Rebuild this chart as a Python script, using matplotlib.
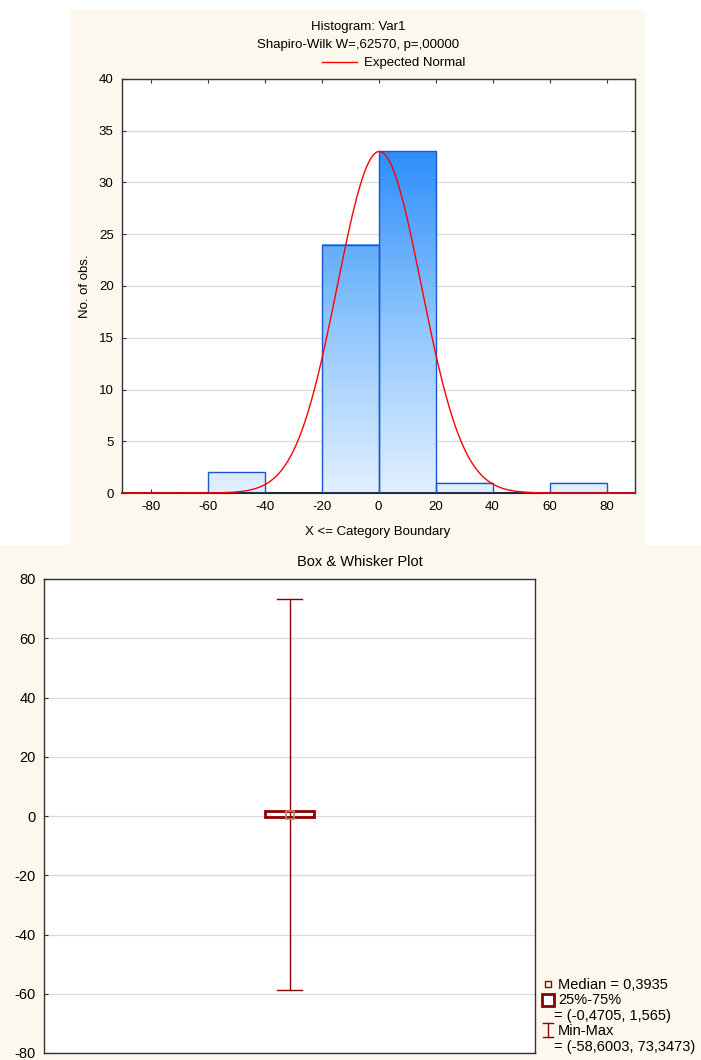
import numpy as np
import matplotlib
matplotlib.use("Agg")
import matplotlib.pyplot as plt
from matplotlib.patches import Rectangle
from matplotlib.lines import Line2D
from matplotlib.colors import LinearSegmentedColormap

plt.rcParams['font.family'] = ['Liberation Sans', 'DejaVu Sans']
plt.rcParams['axes.unicode_minus'] = False

# ---------------- data ----------------
bin_edges = [-80, -60, -40, -20, 0, 20, 40, 60, 80]
counts = [0, 2, 0, 24, 33, 1, 0, 1]
normal_mean = 0.3
normal_sd = 14.75
n_obs = 61
hist_xticks = [-80, -60, -40, -20, 0, 20, 40, 60, 80]
hist_yticks = [0, 5, 10, 15, 20, 25, 30, 35, 40]

box_median = 0.3935
box_q1 = -0.4705
box_q3 = 1.565
box_min = -58.6003
box_max = 73.3473
box_yticks = [-80, -60, -40, -20, 0, 20, 40, 60, 80]

W, H = 701, 1060
BG = '#fdf8ee'
DARKRED = '#8b0000'

fig = plt.figure(figsize=(W / 100, H / 100), dpi=100)
fig.patch.set_facecolor('white')


def fx(x):
    return x / W


def fy(y):
    return 1 - y / H


def ax_rect(l, t, r, b):
    return [fx(l), fy(b), (r - l) / W, (b - t) / H]


# panel backgrounds
fig.add_artist(Rectangle((fx(70), fy(545)), (645 - 70) / W, (545 - 10) / H,
                         transform=fig.transFigure, facecolor=BG, edgecolor='none', zorder=-10))
fig.add_artist(Rectangle((0, 0), 1, fy(545), transform=fig.transFigure,
                         facecolor=BG, edgecolor='none', zorder=-10))

# ---------------- histogram ----------------
ax1 = fig.add_axes(ax_rect(122, 79, 635, 493))
ax1.set_facecolor('white')
cmap = LinearSegmentedColormap.from_list('bl', ['#e2f0ff', '#8ec5fb', '#2d8ffd'])
ymax_c = max(counts)
for i, c in enumerate(counts):
    if c <= 0:
        continue
    x0, x1 = bin_edges[i], bin_edges[i + 1]
    grad = np.linspace(0, c / ymax_c, 200).reshape(-1, 1)
    ax1.imshow(grad, extent=[x0, x1, 0, c], origin='lower', aspect='auto',
               cmap=cmap, vmin=0, vmax=1, zorder=2, interpolation='bilinear')
    ax1.add_patch(Rectangle((x0, 0), x1 - x0, c, facecolor='none',
                            edgecolor='#1a56d0', lw=1, zorder=3))

bw = bin_edges[1] - bin_edges[0]
xs = np.linspace(-90, 90, 600)
ys = n_obs * bw / (normal_sd * np.sqrt(2 * np.pi)) * np.exp(-0.5 * ((xs - normal_mean) / normal_sd) ** 2)
ax1.plot(xs, ys, color='#ff0000', lw=1, zorder=4, clip_on=False)

ax1.set_xlim(-90, 90)
ax1.set_ylim(0, 40)
ax1.set_xticks(hist_xticks)
ax1.set_yticks(hist_yticks)
ax1.set_xticklabels([str(v) for v in hist_xticks])
ax1.grid(axis='y', color='#dcdcdc', lw=1, zorder=0)
ax1.set_axisbelow(True)
ax1.tick_params(direction='in', length=3, top=True, right=True, labelsize=9.5,
                colors='#333333', labelcolor='black', pad=6)
for s in ax1.spines.values():
    s.set_color('#333333')
    s.set_linewidth(1)
ax1.spines['bottom'].set_color('#1c2a40')
ax1.spines['bottom'].set_linewidth(1.5)
ax1.set_xlabel('X <= Category Boundary', fontsize=9.5)
ax1.set_ylabel('No. of obs.', fontsize=9.5)
ax1.xaxis.set_label_coords((378 - 122) / 513, -(532 - 493) / 414)
ax1.yaxis.set_label_coords((85 - 122) / 513, 0.5)
ax1.xaxis.label.set_va('center')
ax1.yaxis.label.set_va('center')

fig.text(fx(358), fy(27), 'Histogram: Var1', ha='center', va='center', fontsize=9.5)
fig.text(fx(358), fy(45), 'Shapiro-Wilk W=,62570, p=,00000', ha='center', va='center', fontsize=9.5)
fig.add_artist(Line2D([fx(322), fx(357)], [fy(62), fy(62)], transform=fig.transFigure,
                      color='#ff0000', lw=1))
fig.text(fx(364), fy(63), 'Expected Normal', ha='left', va='center', fontsize=9.5)

# ---------------- box & whisker ----------------
ax2 = fig.add_axes(ax_rect(44, 579, 535, 1053))
ax2.set_facecolor('white')
ax2.set_xlim(0, 2)
ax2.set_ylim(-80, 80)
ax2.set_yticks(box_yticks)
ax2.set_xticks([])
ax2.grid(axis='y', color='#dcdcdc', lw=1, zorder=0)
ax2.set_axisbelow(True)
ax2.tick_params(direction='in', length=3, labelsize=10.5, colors='#333333',
                labelcolor='black', pad=6)
for s in ax2.spines.values():
    s.set_color('#333333')
    s.set_linewidth(1)

ax2.plot([1, 1], [box_min, box_max], color=DARKRED, lw=1, zorder=3)
ax2.plot([0.95, 1.05], [box_min, box_min], color=DARKRED, lw=1, zorder=3)
ax2.plot([0.95, 1.05], [box_max, box_max], color=DARKRED, lw=1, zorder=3)
ax2.add_patch(Rectangle((0.9, box_q1), 0.2, box_q3 - box_q1, facecolor='none',
                        edgecolor=DARKRED, lw=2, zorder=4))
ax2.plot([1], [box_median], marker='s', ms=6, mfc='none', mec='#c08080', mew=1.2, zorder=5)

fig.text(fx(360), fy(562), 'Box & Whisker Plot', ha='center', va='center', fontsize=10.5)

# legend (manual)
LFS = 10.5
fig.add_artist(Line2D([fx(548)], [fy(984)], transform=fig.transFigure, marker='s', ms=5,
                      mfc='white', mec=DARKRED, mew=1, ls='none'))
fig.text(fx(558), fy(985), 'Median = 0,3935', ha='left', va='center', fontsize=LFS)
fig.add_artist(Rectangle((fx(542), fy(1006)), 12 / W, 12 / H, transform=fig.transFigure,
                         facecolor='white', edgecolor=DARKRED, lw=2))
fig.text(fx(558), fy(1000), '25%-75%', ha='left', va='center', fontsize=LFS)
fig.text(fx(554), fy(1016), '= (-0,4705, 1,565)', ha='left', va='center', fontsize=LFS)
fig.add_artist(Line2D([fx(548), fx(548)], [fy(1023), fy(1037)], transform=fig.transFigure,
                      color=DARKRED, lw=1))
fig.add_artist(Line2D([fx(543), fx(553)], [fy(1023), fy(1023)], transform=fig.transFigure,
                      color=DARKRED, lw=1))
fig.add_artist(Line2D([fx(543), fx(553)], [fy(1037), fy(1037)], transform=fig.transFigure,
                      color=DARKRED, lw=1))
fig.text(fx(558), fy(1031), 'Min-Max', ha='left', va='center', fontsize=LFS)
fig.text(fx(554), fy(1047), '= (-58,6003, 73,3473)', ha='left', va='center', fontsize=LFS)

fig.savefig('out.png', dpi=100, facecolor='white')
